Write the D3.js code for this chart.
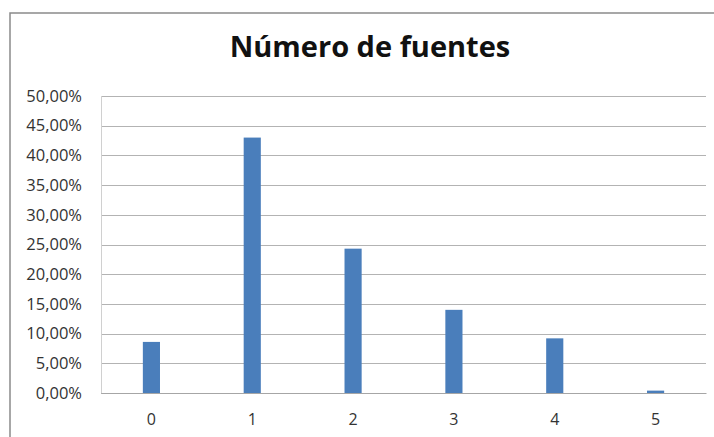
<!DOCTYPE html>
<html>
<head>
<meta charset="utf-8">
<script src="https://cdn.jsdelivr.net/npm/d3@7"></script>
<style>
  html, body { margin: 0; padding: 0; background: #fff; }
  svg { display: block; }
</style>
</head>
<body>
<svg id="chart" width="714" height="437"></svg>
<script>
const title = "Número de fuentes";
const categories = ["0", "1", "2", "3", "4", "5"];
const values = [8.6, 43.0, 24.3, 14.0, 9.2, 0.4];
const yTicks = [0, 5, 10, 15, 20, 25, 30, 35, 40, 45, 50];

const svg = d3.select("#chart");
const W = 714, H = 437;
const margin = { left: 101, right: 8, top: 96, bottom: 44 };

// outer chart border
svg.append("rect")
  .attr("x", 10).attr("y", 13)
  .attr("width", W + 20).attr("height", H + 20)
  .attr("fill", "#fff")
  .attr("stroke", "#8a8a8a").attr("stroke-width", 1.5);

const x = d3.scaleBand()
  .domain(categories)
  .range([margin.left, W - margin.right])
  .paddingInner(0.83).paddingOuter(0.415);

const y = d3.scaleLinear()
  .domain([0, 50])
  .range([H - margin.bottom, margin.top]);

// gridlines
svg.append("g")
  .selectAll("line")
  .data(yTicks)
  .join("line")
  .attr("x1", margin.left).attr("x2", W - margin.right)
  .attr("y1", d => Math.round(y(d)) + 0.5).attr("y2", d => Math.round(y(d)) + 0.5)
  .attr("stroke", "#b3b3b3").attr("stroke-width", 1);

// left edge of plot area (light)
svg.append("line")
  .attr("x1", margin.left + 0.5).attr("x2", margin.left + 0.5)
  .attr("y1", y(50)).attr("y2", y(0))
  .attr("stroke", "#d0d0d0");

// y axis labels
const fmt = d => d3.format(".2f")(d).replace(".", ",") + "%";
const yAxis = d3.axisLeft(y).tickValues(yTicks).tickFormat(fmt).tickSize(0).tickPadding(19);
const gy = svg.append("g").attr("transform", `translate(${margin.left},0)`).call(yAxis);
gy.select(".domain").remove();
gy.selectAll("text")
  .attr("font-family", "'Open Sans', sans-serif")
  .attr("font-size", 16.5)
  .attr("fill", "#333");

// bars
svg.append("g")
  .selectAll("rect")
  .data(values)
  .join("rect")
  .attr("x", (d, i) => x(categories[i]))
  .attr("width", x.bandwidth())
  .attr("y", d => y(d))
  .attr("height", d => y(0) - y(d))
  .attr("fill", "#4a7ebb");

// x axis
const xAxis = d3.axisBottom(x).tickSize(0).tickPadding(21);
const gx = svg.append("g").attr("transform", `translate(0,${y(0)})`).call(xAxis);
gx.select(".domain").attr("stroke", "#a6a6a6");
gx.selectAll("text")
  .attr("font-family", "'Open Sans', sans-serif")
  .attr("font-size", 16)
  .attr("fill", "#333");

// title
svg.append("text")
  .attr("x", 370).attr("y", 57)
  .attr("text-anchor", "middle")
  .attr("font-family", "'Open Sans', sans-serif")
  .attr("font-weight", "bold")
  .attr("font-size", 29)
  .attr("fill", "#111")
  .text(title);
</script>
</body>
</html>
